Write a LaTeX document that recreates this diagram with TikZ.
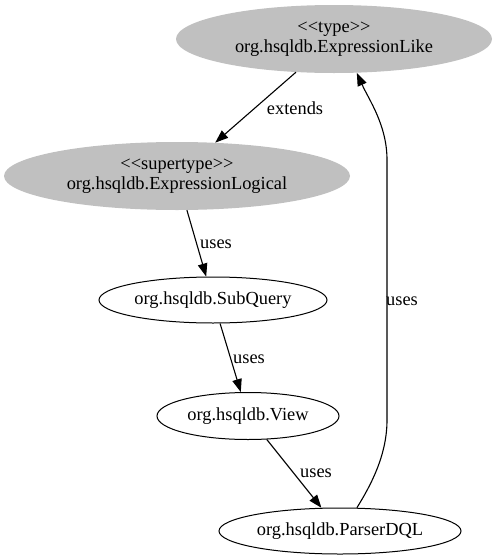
\documentclass[tikz,border=0pt]{standalone}
\usepackage{fontspec}
\setmainfont{Liberation Serif}[Ligatures=TeXOff]
\usetikzlibrary{shapes.geometric,arrows.meta}
\definecolor{nodegray}{RGB}{192,192,192}
\begin{document}
\begin{tikzpicture}[x=1pt,y=1pt,
  base/.style={ellipse,inner sep=0pt,align=center,font=\fontsize{18.4pt}{20.5pt}\selectfont},
  typenode/.style={base,fill=nodegray,draw=none},
  plain/.style={base,draw=black,line width=1pt,fill=white},
  conn/.style={line width=1.1pt,-{Triangle[length=13pt,width=9.5pt]}},
  lbl/.style={inner sep=0pt,font=\fontsize{18.4pt}{20.5pt}\selectfont}]
\useasboundingbox (0,0) rectangle (496,-560);
\node[typenode,minimum width=316pt,minimum height=68pt] (like) at (334,-39)
  {<\kern0pt<type>\kern0pt>\\org.hsqldb.ExpressionLike};
\node[typenode,minimum width=346pt,minimum height=68pt] (logical) at (177,-176)
  {<\kern0pt<supertype>\kern0pt>\\org.hsqldb.ExpressionLogical};
\node[plain,minimum width=228pt,minimum height=46pt] (subq) at (213,-300) {org.hsqldb.SubQuery};
\node[plain,minimum width=182pt,minimum height=47pt] (view) at (248,-416) {org.hsqldb.View};
\node[plain,minimum width=242pt,minimum height=46pt] (parser) at (340,-531) {org.hsqldb.ParserDQL};
\draw[conn] (like) -- (logical);
\draw[conn] (logical) -- (subq);
\draw[conn] (subq) -- (view);
\draw[conn] (view) -- (parser);
\coordinate (c1) at (387,-420);
\coordinate (c2) at (387,-160);
\draw[conn] (parser.54) .. controls (371,-485) and (387,-455) .. (c1)
  -- (c2) .. controls (387,-125) and (369,-100) .. (like.-56);
\node[lbl] (l1) at (295,-108) {extends};
\node[lbl] (l2) at (216,-244) {uses};
\node[lbl] (l3) at (249,-359) {uses};
\node[lbl] (l4) at (316,-473) {uses};
\node[lbl] (l5) at (402,-301) {uses};
\end{tikzpicture}
\end{document}
